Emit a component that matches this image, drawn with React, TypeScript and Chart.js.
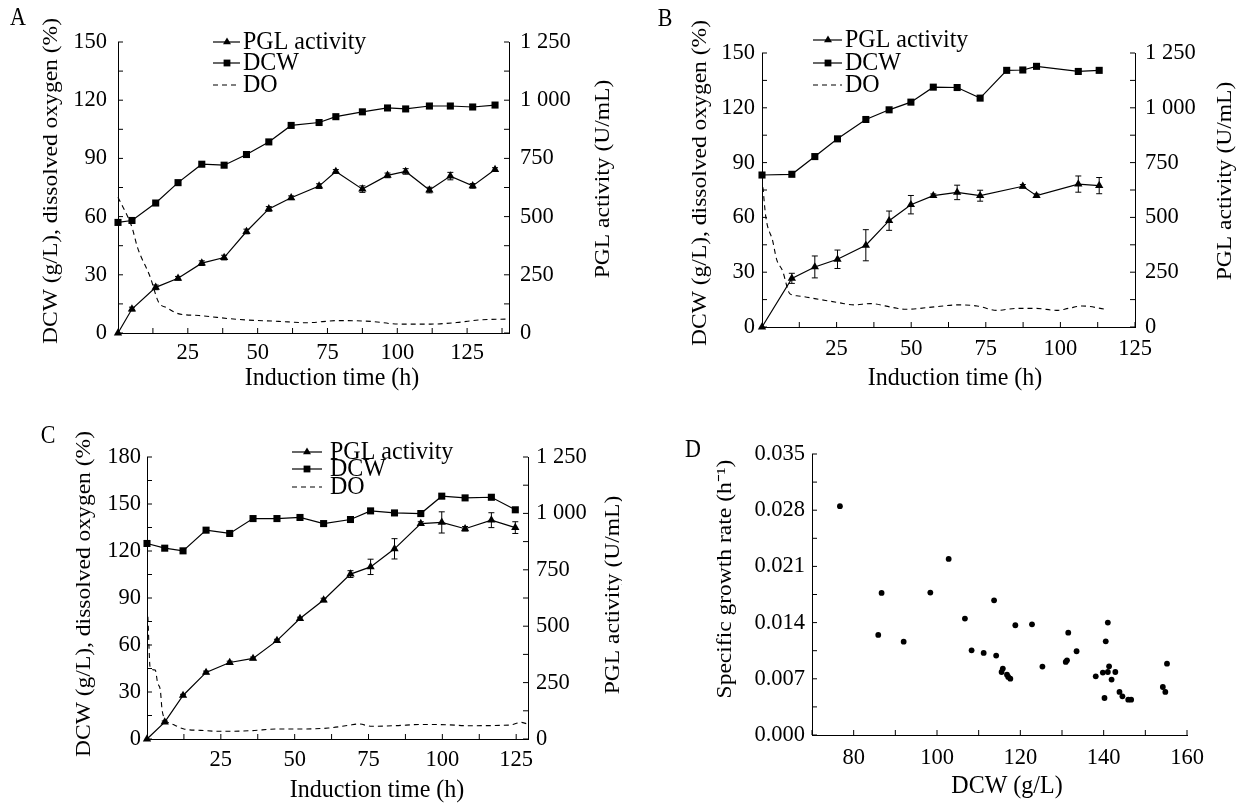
import React, { useEffect, useRef } from "react";
import { Chart, registerables } from "chart.js";
Chart.register(...registerables);

const SERIF = "'Liberation Serif', 'Times New Roman', Times, serif";

// ---------------- Panel A data ----------------
const hoursA = [0, 5, 13.5, 21.5, 30, 38, 46, 54, 62, 72, 78, 87.5, 96.5, 103, 111.5, 119, 127, 135];
const dcwA = [57, 58, 67, 77.5, 87, 86.5, 92, 98.5, 107, 108.5, 111.5, 114, 116, 115.5, 117, 117, 116.5, 117.5];
const pglA = [0, 103, 196, 235, 300, 324, 436, 533, 581, 631, 694, 618, 677, 694, 614, 674, 632, 702];
const pglErrA = [0, 8, 10, 8, 10, 10, 10, 10, 8, 10, 8, 14, 10, 12, 12, 16, 10, 8];
const doHoursA = [0, 5, 7, 11.5, 14.5, 17.5, 21.5, 29, 43, 57.5, 67.5, 79, 90.5, 100.5, 112, 122, 129, 140];
const doA = [70, 54.5, 44, 29, 16, 13, 10, 9, 7, 6, 5.3, 6.4, 6, 4.6, 4.6, 5.5, 6.7, 7.2];

// ---------------- Panel B data ----------------
const hoursB = [0, 10, 17.7, 25.3, 34.8, 42.6, 49.9, 57.4, 65.4, 73.1, 82, 87.4, 92, 106, 113];
const dcwB = [83.2, 83.6, 93.3, 103, 113.6, 118.9, 123.1, 131.3, 131.1, 125.3, 140.5, 140.7, 142.7, 139.9, 140.5];
const pglHoursB = [0, 10, 17.7, 25.3, 34.8, 42.6, 49.9, 57.4, 65.4, 73.1, 87.4, 92, 106, 113];
const pglB = [0, 222, 274, 309, 373, 485, 558, 599, 614, 599, 642, 599, 652, 645];
const pglErrB = [0, 23, 50, 42, 71, 44, 42, 8, 33, 25, 8, 8, 37, 37];
const doHoursB = [0.3, 1.3, 3.6, 4.9, 6.9, 9.3, 12.2, 18.9, 25.5, 30.9, 36.2, 44.1, 48.1, 58.8, 65.4, 72.1, 78.7, 85.4, 92, 98.7, 102.7, 107.3, 115.3];
const doB = [76.5, 60, 47, 37, 30.7, 18.3, 17, 15.2, 13.4, 12.1, 12.8, 10.6, 9.7, 11.2, 12.1, 11.5, 9.1, 10.2, 10.2, 9.1, 10.2, 11.5, 9.7];

// ---------------- Panel C data ----------------
const hoursC = [0, 6, 12.2, 20, 28, 35.9, 44, 51.8, 59.8, 68.9, 75.7, 83.8, 92.7, 99.8, 107.7, 116.6, 124.7];
const dcwC = [124.8, 121.8, 120.1, 133.3, 131.2, 140.7, 140.7, 141.4, 137.5, 140.1, 145.6, 144.3, 143.9, 155, 153.9, 154.3, 146.3];
const pglC = [0, 75, 193, 295, 339, 357, 436, 534, 616, 731, 763, 843, 955, 960, 932, 970, 937];
const pglErrC = [0, 5, 5, 6, 6, 6, 6, 6, 8, 15, 34, 45, 8, 47, 10, 33, 26];
const doHoursC = [0.3, 1.1, 2.8, 3.6, 4.5, 5.1, 6.3, 9.1, 12.5, 18.2, 25, 35.2, 44.3, 52.3, 61.4, 68.2, 71.6, 76.1, 84.1, 93.2, 101.1, 109.1, 122.7, 126.7, 128.4];
const doC = [78, 45, 44, 35.7, 31.4, 18.7, 12.3, 9.1, 6.4, 5.5, 4.9, 5.3, 6.4, 6.4, 7, 8.7, 9.6, 8.1, 8.5, 9.3, 9.1, 8.5, 8.9, 10.6, 9.8];

// ---------------- Panel D data ----------------
const dcwD = [76.7, 86.7, 85.9, 92, 98.4, 102.8, 106.7, 108.3, 111.2, 113.7, 114.2, 115.8, 115.5, 116.8, 117.1, 117.6, 118.8, 122.8, 125.3, 130.9, 131.2, 131.5, 133.5, 138.1, 139.8, 140.2, 140.5, 141, 141, 141.3, 141.9, 142.8, 143.8, 144.5, 145.9, 146.6, 154.2, 154.8, 155.2];
const rateD = [0.0285, 0.0177, 0.01246, 0.01163, 0.01774, 0.02193, 0.0145, 0.01055, 0.01022, 0.01678, 0.00989, 0.00827, 0.00785, 0.00752, 0.00723, 0.00702, 0.01367, 0.01379, 0.00852, 0.0091, 0.0093, 0.01275, 0.01043, 0.00731, 0.00777, 0.00461, 0.01167, 0.014, 0.00785, 0.00856, 0.0069, 0.00785, 0.00536, 0.00482, 0.0044, 0.0044, 0.00598, 0.00536, 0.00889];

// ---------------- ticks ----------------
const xTicksAB = [12.5, 25, 37.5, 50, 62.5, 75, 87.5, 100, 112.5, 125, 137.5];
const xLabelsABC = [25, 50, 75, 100, 125];
const yTicks150 = [0, 15, 30, 45, 60, 75, 90, 105, 120, 135, 150];
const yLabels150 = [0, 30, 60, 90, 120, 150];
const yTicks180 = [0, 15, 30, 45, 60, 75, 90, 105, 120, 135, 150, 165, 180];
const yLabels180 = [0, 30, 60, 90, 120, 150, 180];
const y1Ticks = [0, 125, 250, 375, 500, 625, 750, 875, 1000, 1125, 1250];
const y1Labels = [0, 250, 500, 750, 1000, 1250];
const xTicksD = [70, 80, 90, 100, 110, 120, 130, 140, 150, 160];
const xLabelsD = [80, 100, 120, 140, 160];
const yTicksD = [0, 0.0035, 0.007, 0.0105, 0.014, 0.0175, 0.021, 0.0245, 0.028, 0.0315, 0.035];
const yLabelsD = [0, 0.007, 0.014, 0.021, 0.028, 0.035];

type Layout = { left: number; top: number; width: number; height: number; L: number; R: number; T: number; B: number };

const fmtK = (v: number) => {
  const s = String(Math.round(v));
  return s.length > 3 ? s.slice(0, s.length - 3) + " " + s.slice(-3) : s;
};
const has = (arr: number[], v: number) => arr.some((a) => Math.abs(a - v) < 1e-9);

const inwardTicks = {
  id: "inwardTicks",
  afterDraw(chart: any) {
    const ctx = chart.ctx;
    ctx.save();
    ctx.strokeStyle = "#000";
    ctx.lineWidth = 1;
    const len = 5;
    Object.values(chart.scales).forEach((s: any) => {
      s.ticks.forEach((t: any) => {
        const p = s.getPixelForValue(t.value);
        ctx.beginPath();
        if (s.position === "left") {
          ctx.moveTo(s.right, p);
          ctx.lineTo(s.right + len, p);
        } else if (s.position === "right") {
          ctx.moveTo(s.left, p);
          ctx.lineTo(s.left - len, p);
        } else {
          ctx.moveTo(p, s.top);
          ctx.lineTo(p, s.top - len);
        }
        ctx.stroke();
      });
    });
    ctx.restore();
  },
};

const errorBars = {
  id: "errorBars",
  afterDatasetsDraw(chart: any) {
    const ctx = chart.ctx;
    ctx.save();
    ctx.strokeStyle = "#000";
    ctx.lineWidth = 1;
    chart.data.datasets.forEach((ds: any, i: number) => {
      if (!ds.errors) return;
      const meta = chart.getDatasetMeta(i);
      const ys = chart.scales[ds.yAxisID];
      meta.data.forEach((pt: any, j: number) => {
        const e = ds.errors[j];
        if (!e) return;
        const v = ds.data[j].y;
        const top = ys.getPixelForValue(v + e);
        const bot = ys.getPixelForValue(v - e);
        ctx.beginPath();
        ctx.moveTo(pt.x, top);
        ctx.lineTo(pt.x, bot);
        ctx.moveTo(pt.x - 3, top);
        ctx.lineTo(pt.x + 3, top);
        ctx.moveTo(pt.x - 3, bot);
        ctx.lineTo(pt.x + 3, bot);
        ctx.stroke();
      });
    });
    ctx.restore();
  },
};

type TextSpec = { text: string; x: number; y: number; rot?: number; size?: number; sy?: number; align?: CanvasTextAlign };
type LegendSpec = { x0: number; x1: number; mx: number; tx: number; rows: { y: number; label: string; kind: string }[] };

function makeOverlay(lay: Layout, texts: TextSpec[], legend?: LegendSpec) {
  return {
    id: "overlay",
    afterDraw(chart: any) {
      const ctx = chart.ctx;
      const ox = lay.left, oy = lay.top;
      ctx.save();
      ctx.fillStyle = "#000";
      ctx.strokeStyle = "#000";
      texts.forEach((t) => {
        ctx.save();
        ctx.font = `${t.size || 23}px ${SERIF}`;
        ctx.textAlign = t.align || "center";
        ctx.textBaseline = "middle";
        ctx.translate(t.x - ox, t.y - oy);
        const sy = t.sy || 1;
        if (t.rot) {
          ctx.rotate((t.rot * Math.PI) / 180);
          ctx.scale(sy, 1);
        } else {
          ctx.scale(1, sy);
        }
        ctx.fillText(t.text, 0, 0);
        ctx.restore();
      });
      if (legend) {
        legend.rows.forEach((r) => {
          const y = r.y - oy;
          ctx.save();
          ctx.lineWidth = 1.2;
          if (r.kind === "dash") ctx.setLineDash([5, 4]);
          ctx.beginPath();
          ctx.moveTo(legend.x0 - ox, y);
          ctx.lineTo(legend.x1 - ox, y);
          ctx.stroke();
          ctx.setLineDash([]);
          const mx = legend.mx - ox;
          if (r.kind === "tri") {
            const rr = 4.6;
            ctx.beginPath();
            ctx.moveTo(mx, y - rr);
            ctx.lineTo(mx + rr * 0.866, y + rr * 0.5);
            ctx.lineTo(mx - rr * 0.866, y + rr * 0.5);
            ctx.closePath();
            ctx.fill();
          } else if (r.kind === "rect") {
            ctx.fillRect(mx - 3.4, y - 3.4, 6.8, 6.8);
          }
          ctx.translate(legend.tx - ox, y);
          ctx.scale(1, 1.08);
          ctx.font = `24px ${SERIF}`;
          ctx.textAlign = "left";
          ctx.textBaseline = "middle";
          ctx.fillText(r.label, 0, 0);
          ctx.restore();
        });
      }
      ctx.restore();
    },
  };
}

function tickFont() {
  return { family: SERIF, size: 22.5 };
}

function linearAxis(lay: Layout, position: string, min: number, max: number, tickVals: number[], labelVals: number[], pad: number, fmt: (v: number) => string) {
  return {
    type: "linear",
    position,
    min,
    max,
    afterBuildTicks: (s: any) => {
      s.ticks = tickVals.map((v) => ({ value: v }));
    },
    afterFit: (s: any) => {
      if (position === "left") s.width = lay.L - lay.left;
      else if (position === "right") s.width = lay.left + lay.width - lay.R;
      else s.height = lay.top + lay.height - lay.B;
    },
    ticks: {
      autoSkip: false,
      maxRotation: 0,
      minRotation: 0,
      padding: pad,
      color: "#000",
      font: tickFont(),
      callback: (v: number) => (has(labelVals, v) ? fmt(v) : ""),
    },
    grid: { display: false, drawTicks: false },
    border: { display: true, color: "#000", width: 1 },
    title: { display: false },
  };
}

type TCSpec = {
  lay: Layout;
  hours: number[];
  dcw: number[];
  pglHours: number[];
  pgl: number[];
  pglErr: number[];
  doHours: number[];
  doVals: number[];
  xMax: number;
  xTicks: number[];
  yMax: number;
  yTicks: number[];
  yLabels: number[];
  pads: { l: number; r: number; x: number };
  texts: TextSpec[];
  legend: LegendSpec;
};

function timeCourseConfig(p: TCSpec): any {
  const lay = p.lay;
  return {
    type: "line",
    data: {
      datasets: [
        {
          label: "DO",
          data: p.doHours.map((h, i) => ({ x: h, y: p.doVals[i] })),
          yAxisID: "y",
          borderColor: "#000",
          borderWidth: 1.1,
          borderDash: [5, 4],
          pointRadius: 0,
          cubicInterpolationMode: "monotone",
          fill: false,
          clip: false,
        },
        {
          label: "DCW",
          data: p.hours.map((h, i) => ({ x: h, y: p.dcw[i] })),
          yAxisID: "y",
          borderColor: "#000",
          backgroundColor: "#000",
          borderWidth: 1.2,
          pointStyle: "rect",
          pointRadius: 5,
          pointBorderWidth: 0,
          tension: 0,
          fill: false,
          clip: false,
        },
        {
          label: "PGL activity",
          data: p.pglHours.map((h, i) => ({ x: h, y: p.pgl[i] })),
          errors: p.pglErr,
          yAxisID: "y1",
          borderColor: "#000",
          backgroundColor: "#000",
          borderWidth: 1.2,
          pointStyle: "triangle",
          pointRadius: 4.8,
          pointBorderWidth: 0,
          tension: 0,
          fill: false,
          clip: false,
        },
      ],
    },
    options: {
      responsive: false,
      maintainAspectRatio: false,
      animation: false,
      events: [],
      layout: { padding: { top: lay.T - lay.top, left: 0, right: 0, bottom: 0 } },
      plugins: { legend: { display: false }, tooltip: { enabled: false } },
      scales: {
        x: linearAxis(lay, "bottom", 0, p.xMax, p.xTicks, xLabelsABC, p.pads.x, (v) => String(v)),
        y: linearAxis(lay, "left", 0, p.yMax, p.yTicks, p.yLabels, p.pads.l, (v) => String(v)),
        y1: linearAxis(lay, "right", 0, 1250, y1Ticks, y1Labels, p.pads.r, fmtK),
      },
    },
    plugins: [inwardTicks, errorBars, makeOverlay(lay, p.texts, p.legend)],
  };
}

function scatterConfig(lay: Layout): any {
  return {
    type: "scatter",
    data: {
      datasets: [
        {
          label: "Specific growth rate",
          data: dcwD.map((x, i) => ({ x, y: rateD[i] })),
          backgroundColor: "#000",
          borderColor: "#000",
          pointRadius: 2.9,
          pointBorderWidth: 0,
          clip: false,
        },
      ],
    },
    options: {
      responsive: false,
      maintainAspectRatio: false,
      animation: false,
      events: [],
      layout: { padding: { top: lay.T - lay.top, left: 0, right: lay.left + lay.width - lay.R, bottom: 0 } },
      plugins: { legend: { display: false }, tooltip: { enabled: false } },
      scales: {
        x: linearAxis(lay, "bottom", 70, 160, xTicksD, xLabelsD, 10, (v) => String(v)),
        y: linearAxis(lay, "left", 0, 0.035, yTicksD, yLabelsD, 7, (v) => v.toFixed(3)),
      },
    },
    plugins: [
      inwardTicks,
      makeOverlay(lay, [
        { text: "D", x: 693, y: 451, size: 22, sy: 1.1 },
        { text: "Specific growth rate (h\u207B\u00B9)", x: 725, y: 579, rot: -90, size: 21, sy: 1.12 },
        { text: "DCW (g/L)", x: 1007, y: 786, size: 24, sy: 1.08 },
      ]),
    ],
  };
}

const layA: Layout = { left: 0, top: 0, width: 630, height: 400, L: 118, R: 509, T: 42, B: 333 };
const layB: Layout = { left: 635, top: 0, width: 607, height: 400, L: 762, R: 1135, T: 53, B: 327 };
const layC: Layout = { left: 0, top: 420, width: 622, height: 383, L: 147, R: 528, T: 457, B: 739 };
const layD: Layout = { left: 680, top: 420, width: 562, height: 383, L: 812, R: 1187, T: 454, B: 735 };

const yTitle = "DCW (g/L), dissolved oxygen (%)";
const rTitle = "PGL activity (U/mL)";
const xTitle = "Induction time (h)";

function configA() {
  return timeCourseConfig({
    lay: layA, hours: hoursA, dcw: dcwA, pglHours: hoursA, pgl: pglA, pglErr: pglErrA,
    doHours: doHoursA, doVals: doA, xMax: 140, xTicks: xTicksAB, yMax: 150, yTicks: yTicks150, yLabels: yLabels150,
    pads: { l: 11, r: 11, x: 7 },
    texts: [
      { text: "A", x: 18, y: 19, size: 22, sy: 1.1 },
      { text: yTitle, x: 51, y: 181, rot: -90, size: 21, sy: 1.12 },
      { text: rTitle, x: 603, y: 179, rot: -90, size: 21, sy: 1.12 },
      { text: xTitle, x: 332, y: 378, size: 24, sy: 1.08 },
    ],
    legend: {
      x0: 213, x1: 240, mx: 227, tx: 243,
      rows: [
        { y: 42, label: "PGL activity", kind: "tri" },
        { y: 63, label: "DCW", kind: "rect" },
        { y: 85, label: "DO", kind: "dash" },
      ],
    },
  });
}

function configB() {
  return timeCourseConfig({
    lay: layB, hours: hoursB, dcw: dcwB, pglHours: pglHoursB, pgl: pglB, pglErr: pglErrB,
    doHours: doHoursB, doVals: doB, xMax: 125, xTicks: xTicksAB.filter((v) => v <= 125), yMax: 150, yTicks: yTicks150, yLabels: yLabels150,
    pads: { l: 7, r: 10, x: 9 },
    texts: [
      { text: "B", x: 665, y: 20, size: 22, sy: 1.1 },
      { text: yTitle, x: 700, y: 183, rot: -90, size: 21, sy: 1.12 },
      { text: rTitle, x: 1225, y: 181, rot: -90, size: 21, sy: 1.12 },
      { text: xTitle, x: 955, y: 378, size: 24, sy: 1.08 },
    ],
    legend: {
      x0: 813, x1: 842, mx: 828, tx: 845,
      rows: [
        { y: 40, label: "PGL activity", kind: "tri" },
        { y: 63, label: "DCW", kind: "rect" },
        { y: 85, label: "DO", kind: "dash" },
      ],
    },
  });
}

function configC() {
  return timeCourseConfig({
    lay: layC, hours: hoursC, dcw: dcwC, pglHours: hoursC, pgl: pglC, pglErr: pglErrC,
    doHours: doHoursC, doVals: doC, xMax: 129, xTicks: xTicksAB.filter((v) => v <= 125), yMax: 180, yTicks: yTicks180, yLabels: yLabels180,
    pads: { l: 6, r: 8, x: 8 },
    texts: [
      { text: "C", x: 48, y: 437, size: 22, sy: 1.1 },
      { text: yTitle, x: 84, y: 594, rot: -90, size: 21, sy: 1.12 },
      { text: rTitle, x: 613, y: 595, rot: -90, size: 21, sy: 1.12 },
      { text: xTitle, x: 377, y: 790, size: 24, sy: 1.08 },
    ],
    legend: {
      x0: 292, x1: 322, mx: 307, tx: 330,
      rows: [
        { y: 452, label: "PGL activity", kind: "tri" },
        { y: 469, label: "DCW", kind: "rect" },
        { y: 487, label: "DO", kind: "dash" },
      ],
    },
  });
}

function Panel({ lay, make }: { lay: Layout; make: () => any }) {
  const ref = useRef<HTMLCanvasElement>(null);
  useEffect(() => {
    const chart = new Chart(ref.current as HTMLCanvasElement, make());
    return () => chart.destroy();
  }, []);
  return (
    <canvas
      ref={ref}
      width={lay.width}
      height={lay.height}
      style={{ position: "absolute", left: lay.left, top: lay.top, width: lay.width, height: lay.height }}
    />
  );
}

export default function App() {
  return (
    <div style={{ position: "absolute", left: 0, top: 0, width: 1242, height: 803, overflow: "hidden", background: "#fff" }}>
      <Panel lay={layA} make={configA} />
      <Panel lay={layB} make={configB} />
      <Panel lay={layC} make={configC} />
      <Panel lay={layD} make={() => scatterConfig(layD)} />
    </div>
  );
}
